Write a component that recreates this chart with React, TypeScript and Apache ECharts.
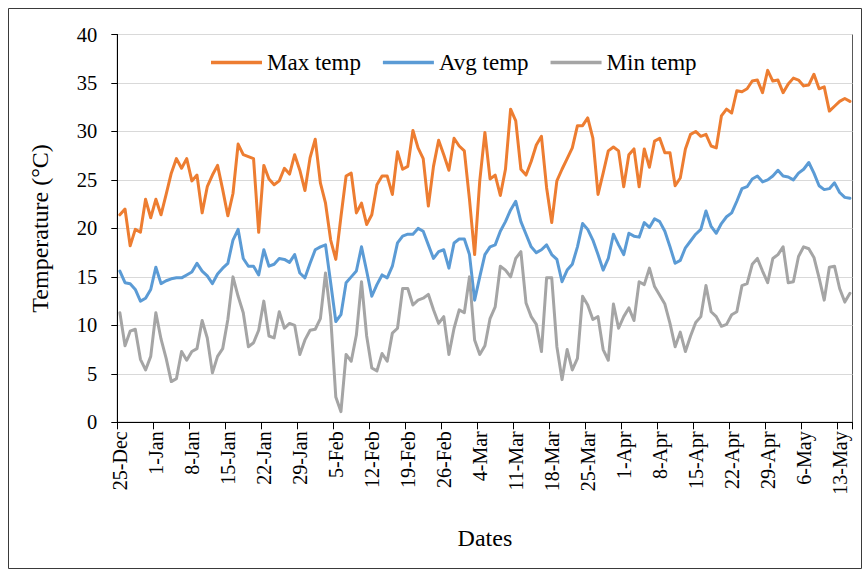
import React, { useEffect, useRef } from "react";
import * as echarts from "echarts";

// Categories: daily dates 25-Dec .. 15-May (leap-year February)
const monthSpans: [string, number, number][] = [
  ["Dec", 25, 31],
  ["Jan", 1, 31],
  ["Feb", 1, 29],
  ["Mar", 1, 31],
  ["Apr", 1, 30],
  ["May", 1, 15],
];
const dates: string[] = monthSpans.flatMap(([m, a, b]) =>
  Array.from({ length: b - a + 1 }, (_, i) => `${a + i}-${m}`)
);

const maxTemp = [
  21.4, 22.0, 18.2, 19.9, 19.6, 23.0, 21.1, 23.0, 21.4, 23.5,
  25.7, 27.2, 26.2, 27.2, 24.9, 25.5, 21.6, 24.3, 25.5, 26.5,
  24.0, 21.3, 23.6, 28.7, 27.6, 27.4, 27.2, 19.6, 26.5, 25.1,
  24.5, 24.9, 26.2, 25.6, 27.6, 26.0, 23.9, 27.3, 29.2, 24.7,
  22.6, 18.8, 16.8, 21.2, 25.4, 25.7, 21.6, 22.6, 20.4, 21.4,
  24.5, 25.4, 25.4, 23.5, 27.9, 26.1, 26.4, 30.1, 28.3, 27.2,
  22.3, 26.4, 29.1, 27.6, 26.0, 29.3, 28.5, 28.0, 23.0, 17.3,
  24.9, 29.9, 25.1, 25.5, 23.4, 26.1, 32.3, 31.1, 26.1, 25.5,
  26.9, 28.6, 29.5, 24.2, 20.6, 24.9, 26.1, 27.2, 28.3, 30.6,
  30.6, 31.4, 29.3, 23.5, 25.7, 28.0, 28.4, 28.0, 24.3, 27.6,
  28.2, 24.3, 28.2, 26.3, 29.0, 29.3, 27.8, 27.8, 24.4, 25.2,
  28.2, 29.7, 30.0, 29.5, 29.7, 28.5, 28.3, 31.6, 32.3, 31.9,
  34.2, 34.1, 34.4, 35.2, 35.3, 34.0, 36.3, 35.2, 35.3, 34.0,
  34.9, 35.5, 35.3, 34.7, 34.8, 35.9, 34.4, 34.6, 32.1, 32.6,
  33.1, 33.4, 33.1,
];

const avgTemp = [
  15.6, 14.4, 14.3, 13.7, 12.5, 12.8, 13.7, 16.0, 14.3, 14.6,
  14.8, 14.9, 14.9, 15.2, 15.5, 16.4, 15.6, 15.1, 14.3, 15.3,
  15.9, 16.4, 18.8, 19.9, 16.9, 16.1, 16.1, 15.2, 17.8, 16.1,
  16.3, 16.9, 16.8, 16.5, 17.3, 15.4, 14.9, 16.4, 17.8, 18.1,
  18.3, 14.4, 10.4, 11.1, 14.4, 15.0, 15.6, 18.1, 15.6, 13.0,
  14.2, 15.2, 14.9, 16.1, 18.5, 19.2, 19.4, 19.4, 20.0, 19.7,
  18.3, 16.9, 17.6, 17.8, 15.9, 18.5, 18.9, 18.9, 17.3, 12.6,
  15.0, 17.3, 18.1, 18.3, 19.7, 20.7, 21.9, 22.8, 20.7, 19.4,
  18.1, 17.5, 17.8, 18.3, 17.3, 16.8, 14.5, 15.7, 16.3, 18.1,
  20.5, 19.9, 18.8, 17.3, 15.7, 16.9, 19.4, 18.3, 17.3, 19.5,
  19.2, 19.1, 20.6, 20.1, 21.0, 20.7, 19.7, 18.1, 16.4, 16.7,
  18.0, 18.7, 19.4, 19.9, 21.8, 20.2, 19.5, 20.5, 21.2, 21.6,
  22.8, 24.1, 24.3, 25.1, 25.4, 24.8, 25.0, 25.4, 26.0, 25.4,
  25.3, 25.0, 25.7, 26.1, 26.8, 25.7, 24.4, 24.0, 24.1, 24.7,
  23.7, 23.2, 23.1,
];

const minTemp = [
  11.3, 7.9, 9.4, 9.6, 6.5, 5.4, 6.8, 11.3, 8.6, 6.6,
  4.2, 4.5, 7.3, 6.4, 7.3, 7.6, 10.5, 8.7, 5.1, 6.8,
  7.6, 10.6, 15.0, 13.0, 11.3, 7.8, 8.2, 9.5, 12.5, 8.9,
  8.7, 11.4, 9.7, 10.2, 10.0, 7.0, 8.5, 9.5, 9.6, 10.7,
  15.4, 10.9, 2.6, 1.1, 7.0, 6.3, 9.0, 14.5, 8.9, 5.6,
  5.3, 7.1, 6.3, 9.2, 9.7, 13.8, 13.8, 12.1, 12.6, 12.8,
  13.2, 11.6, 10.2, 10.9, 7.0, 9.7, 11.6, 11.3, 15.0, 8.5,
  7.0, 7.9, 10.7, 11.9, 16.1, 15.7, 15.0, 16.9, 17.6, 12.3,
  10.9, 10.1, 7.3, 14.9, 14.9, 7.8, 4.4, 7.5, 5.4, 6.6,
  13.0, 12.1, 10.6, 10.9, 7.5, 6.4, 12.2, 9.7, 10.9, 11.8,
  10.5, 14.5, 14.2, 15.9, 14.0, 13.1, 12.2, 10.2, 7.8, 9.3,
  7.3, 8.9, 10.3, 10.9, 14.1, 11.4, 10.9, 9.9, 10.1, 11.1,
  11.4, 14.1, 14.3, 16.3, 16.9, 15.6, 14.4, 16.9, 17.3, 18.1,
  14.4, 14.5, 17.1, 18.1, 17.9, 17.0, 14.9, 12.6, 16.0, 16.1,
  13.8, 12.4, 13.3,
];

const seriesNames = ["Max temp", "Avg temp", "Min temp"];
const seriesColors = ["#ED7D31", "#5B9BD5", "#A5A5A5"];
const yTicks = { min: 0, max: 40, interval: 5 };

const FONT = "'Liberation Serif', 'Times New Roman', serif";

export default function App() {
  const ref = useRef<HTMLDivElement>(null);

  useEffect(() => {
    if (!ref.current) return;
    const chart = echarts.init(ref.current, undefined, { renderer: "svg" });
    const seriesData = [maxTemp, avgTemp, minTemp];
    chart.setOption({
      animation: false,
      backgroundColor: "#ffffff",
      textStyle: { fontFamily: FONT, color: "#000" },
      graphic: [
        {
          type: "rect",
          shape: { x: 8.5, y: 8.5, width: 853, height: 560 },
          style: { fill: "none", stroke: "#3a3a3a", lineWidth: 1 },
          silent: true,
          z: -1,
        },
      ],
      legend: {
        data: seriesNames,
        left: 206,
        top: 46,
        icon: "rect",
        itemWidth: 51,
        itemHeight: 3.5,
        itemGap: 22,
        textStyle: { fontFamily: FONT, fontSize: 23, color: "#000" },
      },
      grid: {
        left: 117.3,
        right: 11.5,
        top: 34.5,
        bottom: 148.7,
        show: true,
        borderColor: "#595959",
        borderWidth: 1,
        backgroundColor: "transparent",
      },
      xAxis: {
        type: "category",
        data: dates,
        boundaryGap: true,
        name: "Dates",
        nameLocation: "middle",
        nameGap: 104,
        nameTextStyle: { fontFamily: FONT, fontSize: 24, color: "#000" },
        axisLine: { show: true, lineStyle: { color: "#000", width: 1 } },
        axisTick: {
          show: true,
          interval: 6,
          alignWithLabel: false,
          length: 7,
          lineStyle: { color: "#000" },
        },
        axisLabel: {
          interval: 6,
          rotate: 90,
          margin: 9,
          fontFamily: FONT,
          fontSize: 20,
          color: "#000",
        },
        splitLine: { show: false },
      },
      yAxis: {
        type: "value",
        min: yTicks.min,
        max: yTicks.max,
        interval: yTicks.interval,
        name: "Temperature (°C)",
        nameLocation: "middle",
        nameGap: 65,
        nameTextStyle: { fontFamily: FONT, fontSize: 24, color: "#000" },
        axisLine: { show: true, lineStyle: { color: "#000", width: 1 } },
        axisTick: { show: true, length: 6, lineStyle: { color: "#000" } },
        axisLabel: { margin: 20, fontFamily: FONT, fontSize: 20.5, color: "#000" },
        splitLine: { show: true, lineStyle: { color: "#d9d9d9", width: 1 } },
      },
      series: seriesNames.map((name, i) => ({
        name,
        type: "line",
        data: seriesData[i],
        showSymbol: false,
        symbol: "none",
        color: seriesColors[i],
        lineStyle: { color: seriesColors[i], width: 3, cap: "round", join: "round" },
      })),
    });
    return () => chart.dispose();
  }, []);

  return (
    <div
      ref={ref}
      style={{ position: "fixed", left: 0, top: 0, width: 864, height: 571, background: "#fff" }}
    />
  );
}
